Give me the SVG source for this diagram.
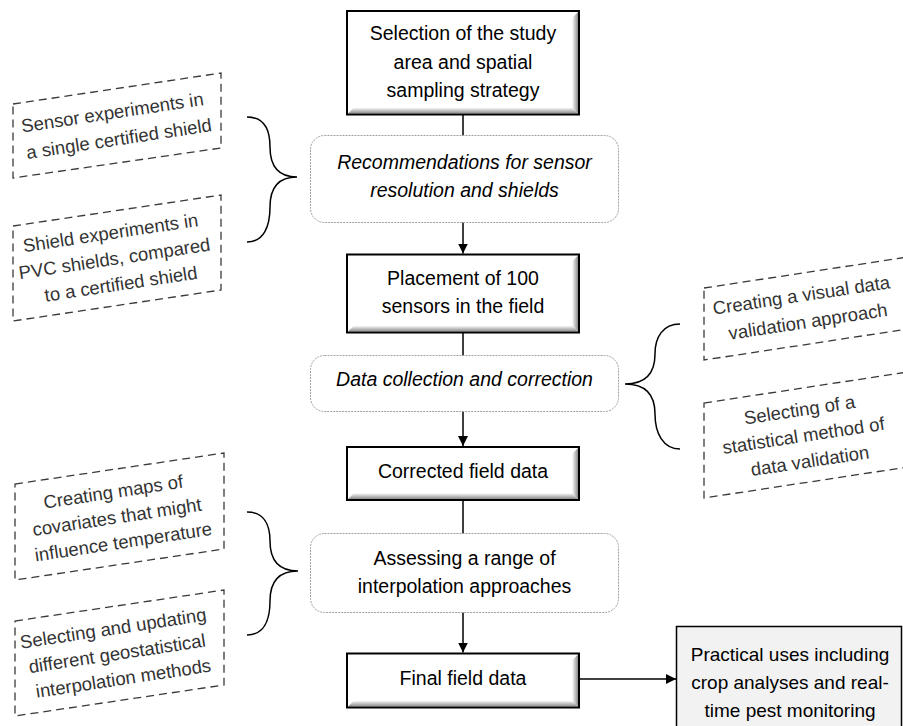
<svg xmlns="http://www.w3.org/2000/svg" width="903" height="726" viewBox="0 0 903 726">
  <defs>
    <style>
      .main { fill: #ffffff; stroke: none; }
      .frame { fill: none; stroke: #000000; stroke-width: 2; }
      .bevR { fill: url(#gradR); }
      .bevB { fill: url(#gradB); }
      .proc { fill: #ffffff; stroke: #a0a0a0; stroke-width: 1; stroke-dasharray: 2 1; }
      .dash { fill: #ffffff; stroke: #3a3a3a; stroke-width: 1.3; stroke-dasharray: 8 5; }
      .brace { fill: none; stroke: #000000; stroke-width: 1.5; }
      .conn { fill: none; stroke: #000000; stroke-width: 1.5; }
      .t { font-family: "Liberation Sans", Arial, sans-serif; font-size: 19.5px; fill: #000000; text-anchor: middle; }
      .ti { font-family: "Liberation Sans", Arial, sans-serif; font-size: 19.5px; font-style: italic; fill: #000000; text-anchor: middle; }
      .td { font-family: "Liberation Sans", Arial, sans-serif; font-size: 18.5px; fill: #333333; text-anchor: middle; }
      .tp { font-family: "Liberation Sans", Arial, sans-serif; font-size: 19px; fill: #000000; text-anchor: middle; }
    </style>
    <linearGradient id="gradR" x1="0" y1="0" x2="1" y2="0">
      <stop offset="0" stop-color="#ffffff"/>
      <stop offset="1" stop-color="#8a8a8a"/>
    </linearGradient>
    <linearGradient id="gradB" x1="0" y1="0" x2="0" y2="1">
      <stop offset="0" stop-color="#ffffff"/>
      <stop offset="1" stop-color="#8a8a8a"/>
    </linearGradient>
    <marker id="arrow" markerUnits="userSpaceOnUse" markerWidth="11" markerHeight="11" refX="10" refY="5" orient="auto">
      <path d="M0,0 L10,5 L0,10 Z" fill="#000000"/>
    </marker>
  </defs>

  <g id="connectors">
    <line class="conn" x1="463" y1="115" x2="463" y2="136"/>
    <line class="conn" x1="463" y1="222" x2="463" y2="253.5" marker-end="url(#arrow)"/>
    <line class="conn" x1="463" y1="332" x2="463" y2="356"/>
    <line class="conn" x1="463" y1="411" x2="463" y2="446" marker-end="url(#arrow)"/>
    <line class="conn" x1="463" y1="500" x2="463" y2="534"/>
    <line class="conn" x1="463" y1="612" x2="463" y2="652.5" marker-end="url(#arrow)"/>
    <line class="conn" x1="580" y1="679" x2="676" y2="679" marker-end="url(#arrow)"/>
    <path class="brace" d="M247,117 C264,117 270,130 270,147 C270,166 278,177 297,177 C278,177 270,188 270,207 C270,226 264,242 247,242"/>
    <path class="brace" d="M247,512 C264,512 270,525 270,541 C270,560 278,571 298,571 C278,571 270,582 270,601 C270,620 264,635 247,635"/>
    <path class="brace" d="M680,324 C663,324 655,337 655,354 C655,373 646,384 625,384 C646,384 655,395 655,414 C655,433 663,449 680,449"/>
  </g>

  <g id="n-selection">
    <rect class="main" x="347" y="11" width="232" height="103.5"/>
    <polygon class="bevR" points="578,12 578,113.5 572,107.5 572,18"/>
    <polygon class="bevB" points="348,113.5 578,113.5 572,107.5 354,107.5"/>
    <rect class="frame" x="347" y="11" width="232" height="103.5"/>
    <text class="t" x="463" y="40">Selection of the study</text>
    <text class="t" x="463" y="68.5">area and spatial</text>
    <text class="t" x="463" y="97">sampling strategy</text>
  </g>

  <g id="n-recommendations">
    <rect class="proc" x="310.5" y="135.5" width="308" height="87" rx="14"/>
    <text class="ti" x="464.5" y="168.5">Recommendations for sensor</text>
    <text class="ti" x="464.5" y="196.5">resolution and shields</text>
  </g>

  <g id="n-placement">
    <rect class="main" x="347" y="254.5" width="232" height="78"/>
    <polygon class="bevR" points="578,255.5 578,331.5 572,325.5 572,261.5"/>
    <polygon class="bevB" points="348,331.5 578,331.5 572,325.5 354,325.5"/>
    <rect class="frame" x="347" y="254.5" width="232" height="78"/>
    <text class="t" x="463" y="285">Placement of 100</text>
    <text class="t" x="463" y="313">sensors in the field</text>
  </g>

  <g id="n-datacollection">
    <rect class="proc" x="310.5" y="355.5" width="308" height="56" rx="14"/>
    <text class="ti" x="464.5" y="386">Data collection and correction</text>
  </g>

  <g id="n-corrected">
    <rect class="main" x="347" y="447" width="232" height="53"/>
    <polygon class="bevR" points="578,448 578,499 572,493 572,454"/>
    <polygon class="bevB" points="348,499 578,499 572,493 354,493"/>
    <rect class="frame" x="347" y="447" width="232" height="53"/>
    <text class="t" x="463" y="478">Corrected field data</text>
  </g>

  <g id="n-assessing">
    <rect class="proc" x="310.5" y="533.5" width="308" height="79" rx="14"/>
    <text class="t" x="464.5" y="564.5">Assessing a range of</text>
    <text class="t" x="464.5" y="593">interpolation approaches</text>
  </g>

  <g id="n-final">
    <rect class="main" x="347" y="653.5" width="232" height="54"/>
    <polygon class="bevR" points="578,654.5 578,706.5 572,700.5 572,660.5"/>
    <polygon class="bevB" points="348,706.5 578,706.5 572,700.5 354,700.5"/>
    <rect class="frame" x="347" y="653.5" width="232" height="54"/>
    <text class="t" x="463" y="685">Final field data</text>
  </g>

  <g id="n-practical">
    <rect x="676.5" y="626.5" width="225" height="110" fill="#f2f2f2" stroke="#000000" stroke-width="1.5"/>
    <text class="tp" x="790" y="661">Practical uses including</text>
    <text class="tp" x="790" y="689">crop analyses and real-</text>
    <text class="tp" x="790" y="717">time pest monitoring</text>
  </g>

  <g id="n-sensor-exp">
    <polygon class="dash" points="13,104 221,73 221,148 13,178"/>
    <text class="td" transform="rotate(-8.6 117 125.8)">
      <tspan x="117" y="118.3">Sensor experiments in</tspan>
      <tspan x="117" y="145.3">a single certified shield</tspan>
    </text>
  </g>

  <g id="n-shield-exp">
    <polygon class="dash" points="13,226 221,195 221,290 13,321"/>
    <text class="td" transform="rotate(-8.6 117 258)">
      <tspan x="117" y="238.5">Shield experiments in</tspan>
      <tspan x="117" y="264.5">PVC shields, compared</tspan>
      <tspan x="117" y="290.5">to a certified shield</tspan>
    </text>
  </g>

  <g id="n-visual">
    <polygon class="dash" points="704,288 908,257 908,329 704,360"/>
    <text class="td" transform="rotate(-8.6 806 308.5)">
      <tspan x="806" y="301">Creating a visual data</tspan>
      <tspan x="806" y="328">validation approach</tspan>
    </text>
  </g>

  <g id="n-statistical">
    <polygon class="dash" points="704,403 908,372 908,467 704,498"/>
    <text class="td" transform="rotate(-8.6 806 435)">
      <tspan x="806" y="415.5">Selecting of a</tspan>
      <tspan x="806" y="441.5">statistical method of</tspan>
      <tspan x="806" y="467.5">data validation</tspan>
    </text>
  </g>

  <g id="n-covariates">
    <polygon class="dash" points="15,484 224,453 224,549 15,580"/>
    <text class="td" transform="rotate(-8.6 119.5 516.5)">
      <tspan x="119.5" y="497.5">Creating maps of</tspan>
      <tspan x="119.5" y="523">covariates that might</tspan>
      <tspan x="119.5" y="548.5">influence temperature</tspan>
    </text>
  </g>

  <g id="n-geostat">
    <polygon class="dash" points="15,621 224,590 224,685 15,716"/>
    <text class="td" transform="rotate(-8.6 119.5 653)">
      <tspan x="119.5" y="634">Selecting and updating</tspan>
      <tspan x="119.5" y="659.5">different geostatistical</tspan>
      <tspan x="119.5" y="685">interpolation methods</tspan>
    </text>
  </g>
</svg>
